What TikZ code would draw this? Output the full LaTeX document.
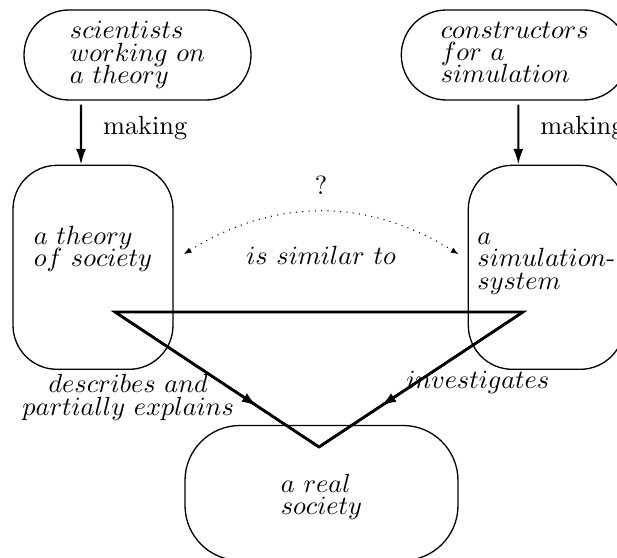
\documentclass[tikz,border=0pt]{standalone}
\usepackage{tikz}
\usetikzlibrary{positioning,arrows.meta}
\usetikzlibrary{decorations.markings}
\newcommand{\tightlines}{\fontsize{10}{8.5}\selectfont\lineskiplimit-20pt\relax}
\tikzset{
	box/.style={draw, line width=0.5pt, rounded corners=#1, inner sep=0pt, align=left, font=\tightlines},
	making/.style={line width=0.8pt, -{Latex[length=6pt,width=3.8pt]}},
	triangle/.style={line width=1pt},
	relation/.style={line width=1pt, postaction={decorate}, decoration={markings,mark=at position 0.7 with {\arrow{Latex[length=6pt,width=3.8pt]}}}},
	similar/.style={dotted, line width=0.4pt, {Latex[length=3pt,width=2.2pt]}-{Latex[length=3pt,width=2.2pt]}},
	lbl/.style={align=center, font=\tightlines},
}

\begin{document}
\begin{tikzpicture}[x=0.38pt,y=-0.38pt]
    \useasboundingbox (0,0) rectangle (617,558);

    \node[box=17.1pt, minimum width=86.26pt, minimum height=34.2pt] (scientists) at (137.5,55) {$scientists$\\$working\ on$\\$a\ theory$};
    \node[box=17.1pt, minimum width=86.26pt, minimum height=34.2pt, text depth=2pt, right=56.62pt of scientists] (constructors) {$constructors$\\$for\ a$\\$simulation$};

    \node[box=16.72pt, minimum width=60.8pt, minimum height=77.52pt, text depth=16pt, below=24.32pt of scientists, xshift=-16.91pt] (theory) {$a\ theory$\\$of\ society$};
    \node[box=16.72pt, minimum width=59.28pt, minimum height=77.52pt, text depth=4.75pt, right=111.72pt of theory] (simsys) {$a$\\$simulation$-\\$system$};

    \node[box=20.9pt, minimum width=103.74pt, minimum height=51.3pt, text height=18.2pt] (society) at (321.5,493) {$a\ real$\\$society$};

    \coordinate (thl) at (115,312);
    \coordinate (thr) at (523,312);
    \coordinate (tb) at (319,447);

    \draw[making] ([shift={(-56.5,4)}]scientists.south) -- node[anchor=base west, inner sep=0pt, xshift=8pt] {making} ([shift={(-12,0)}]theory.north);
    \draw[making] ([shift={(3.5,4)}]constructors.south) -- node[anchor=base west, inner sep=0pt, xshift=8pt] {making} ([shift={(-28,0)}]simsys.north);

    \draw[similar] ([shift={(10,-13)}]theory.east) to[bend left=32]
        node[anchor=base, inner sep=0pt, yshift=6.5pt] {?}
        node[anchor=base, inner sep=0pt, yshift=-20.1pt] {$is\ similar\ to$} ([shift={(-9,-13)}]simsys.west);

    \draw[triangle] (thl) -- (thr) -- (tb) -- cycle;
    \draw[relation] (thl) -- node[lbl, left, pos=0.633] {$describes\ and$\\$partially\ explains$} (tb);
    \draw[relation] (thr) -- node[anchor=base west, inner sep=0pt, xshift=-6.1pt, yshift=-3.6pt] {$investigates$} (tb);
\end{tikzpicture}
\end{document}
